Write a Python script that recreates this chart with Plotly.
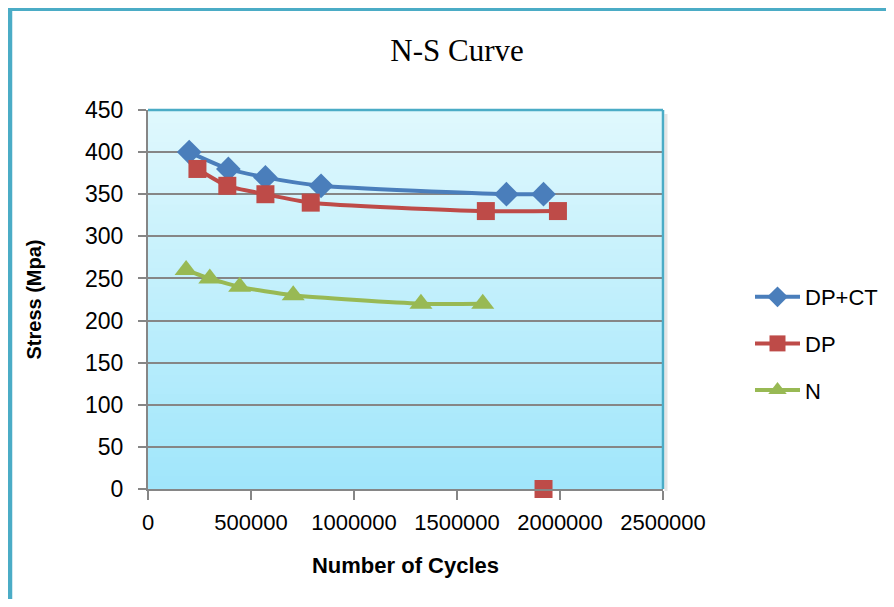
import plotly.graph_objects as go

# Data
dpct_cycles = [200000, 390000, 570000, 840000, 1740000, 1920000]
dpct_stress = [400, 380, 370, 360, 350, 350]

dp_cycles = [240000, 385000, 570000, 790000, 1640000, 1990000, None, 1920000]
dp_stress = [380, 360, 350, 340, 330, 330, None, 0]

n_cycles = [185000, 300000, 445000, 705000, 1325000, 1625000]
n_stress = [260, 250, 240, 230, 220, 220]

x_ticks = [0, 500000, 1000000, 1500000, 2000000, 2500000]
y_ticks = [0, 50, 100, 150, 200, 250, 300, 350, 400, 450]

BLUE = "#4A7EBB"
RED = "#BE4B48"
GREEN = "#98B954"
TEAL = "#4BACC6"
FONT = "Liberation Sans, Arial, sans-serif"

fig = go.Figure()
fig.add_trace(go.Scatter(x=dpct_cycles, y=dpct_stress, name="DP+CT", mode="lines+markers",
                         line=dict(color=BLUE, width=4, shape="spline", smoothing=0.6),
                         marker=dict(symbol="diamond", size=19, color=BLUE),
                         legendgroup="a", cliponaxis=False))
fig.add_trace(go.Scatter(x=dp_cycles, y=dp_stress, name="DP", mode="lines+markers",
                         line=dict(color=RED, width=4, shape="spline", smoothing=0.6),
                         marker=dict(symbol="square", size=18, color=RED),
                         connectgaps=False, legendgroup="b", cliponaxis=False))
fig.add_trace(go.Scatter(x=n_cycles, y=n_stress, name="N", mode="lines+markers",
                         line=dict(color=GREEN, width=4, shape="spline", smoothing=0.6),
                         marker=dict(symbol="triangle-up", size=20, color=GREEN),
                         legendgroup="c", cliponaxis=False))

# Figure geometry (page has an 8px body margin)
W, H = 878, 591
L, R, T, B = 140, 655, 102, 481

def px(xp):
    return (xp - L) / (R - L)

def py(yp):
    return (B - yp) / (B - T)

# Gradient plot background
shapes = []
n_bands = 60
top = (0xE0, 0xF8, 0xFD)
bot = (0xA0, 0xE6, 0xFB)
for i in range(n_bands):
    t = (i + 0.5) / n_bands
    c = tuple(round(bot[k] + (top[k] - bot[k]) * t) for k in range(3))
    shapes.append(dict(type="rect", xref="x domain", yref="y domain",
                       x0=0, x1=1, y0=i / n_bands, y1=(i + 1) / n_bands + 0.002,
                       fillcolor="rgb(%d,%d,%d)" % c, line=dict(width=0), layer="below"))

# plot area teal border (top, right)
shapes.append(dict(type="line", xref="x domain", yref="y domain", x0=0, x1=1, y0=1, y1=1,
                   line=dict(color=TEAL, width=2.5), layer="above"))
shapes.append(dict(type="line", xref="x domain", yref="y domain", x0=1, x1=1, y0=0, y1=1,
                   line=dict(color=TEAL, width=2.5), layer="above"))
# soft shadow right of plot area
shapes.append(dict(type="line", xref="paper", yref="paper", x0=px(R + 3), x1=px(R + 3),
                   y0=py(B + 2), y1=py(T + 4), line=dict(color="rgba(0,0,0,0.10)", width=3)))

# Outer chart frame (left and top teal border)
shapes.append(dict(type="line", xref="paper", yref="paper", x0=px(2), x1=px(2),
                   y0=py(0), y1=py(H + 5), line=dict(color=TEAL, width=4.5)))
shapes.append(dict(type="line", xref="paper", yref="paper", x0=px(0), x1=px(W + 5),
                   y0=py(1.5), y1=py(1.5), line=dict(color=TEAL, width=3)))

fig.update_layout(
    width=W, height=H,
    margin=dict(l=L, r=W - R, t=T, b=H - B, autoexpand=False),
    paper_bgcolor="white", plot_bgcolor="#C0EFFC",
    shapes=shapes,
    title=dict(text="N-S Curve", x=449 / W, xanchor="center", y=1 - 42 / H, yanchor="middle",
               font=dict(family="Liberation Serif, DejaVu Serif, serif", size=31, color="black")),
    font=dict(family=FONT, color="black"),
    legend=dict(x=px(742), xanchor="left", y=py(268), yanchor="top",
                font=dict(family=FONT, size=22, color="black"), tracegroupgap=15,
                itemwidth=45, bgcolor="rgba(0,0,0,0)"),
    showlegend=True,
)
fig.update_xaxes(range=[0, 2500000], tickvals=x_ticks, ticktext=[str(v) for v in x_ticks],
                 showgrid=False, zeroline=False, showline=True, linecolor="#868686", linewidth=2,
                 ticks="outside", ticklen=9, tickcolor="#868686", tickwidth=1.5,
                 tickfont=dict(size=22, family=FONT), ticklabelstandoff=4,
                 title=dict(text="<b>Number of Cycles</b>", font=dict(size=22, family=FONT), standoff=23))
fig.update_yaxes(range=[0, 450], tickvals=y_ticks, showgrid=True, gridcolor="#868686", gridwidth=1.5,
                 zeroline=False, showline=True, linecolor="#868686", linewidth=2,
                 ticks="outside", ticklen=8, tickcolor="#868686", tickwidth=1.5,
                 tickfont=dict(size=23, family=FONT), ticklabelstandoff=10,
                 title=dict(text="<b>Stress (Mpa)</b>", font=dict(size=20, family=FONT), standoff=38))

fig.write_html("out.html")
